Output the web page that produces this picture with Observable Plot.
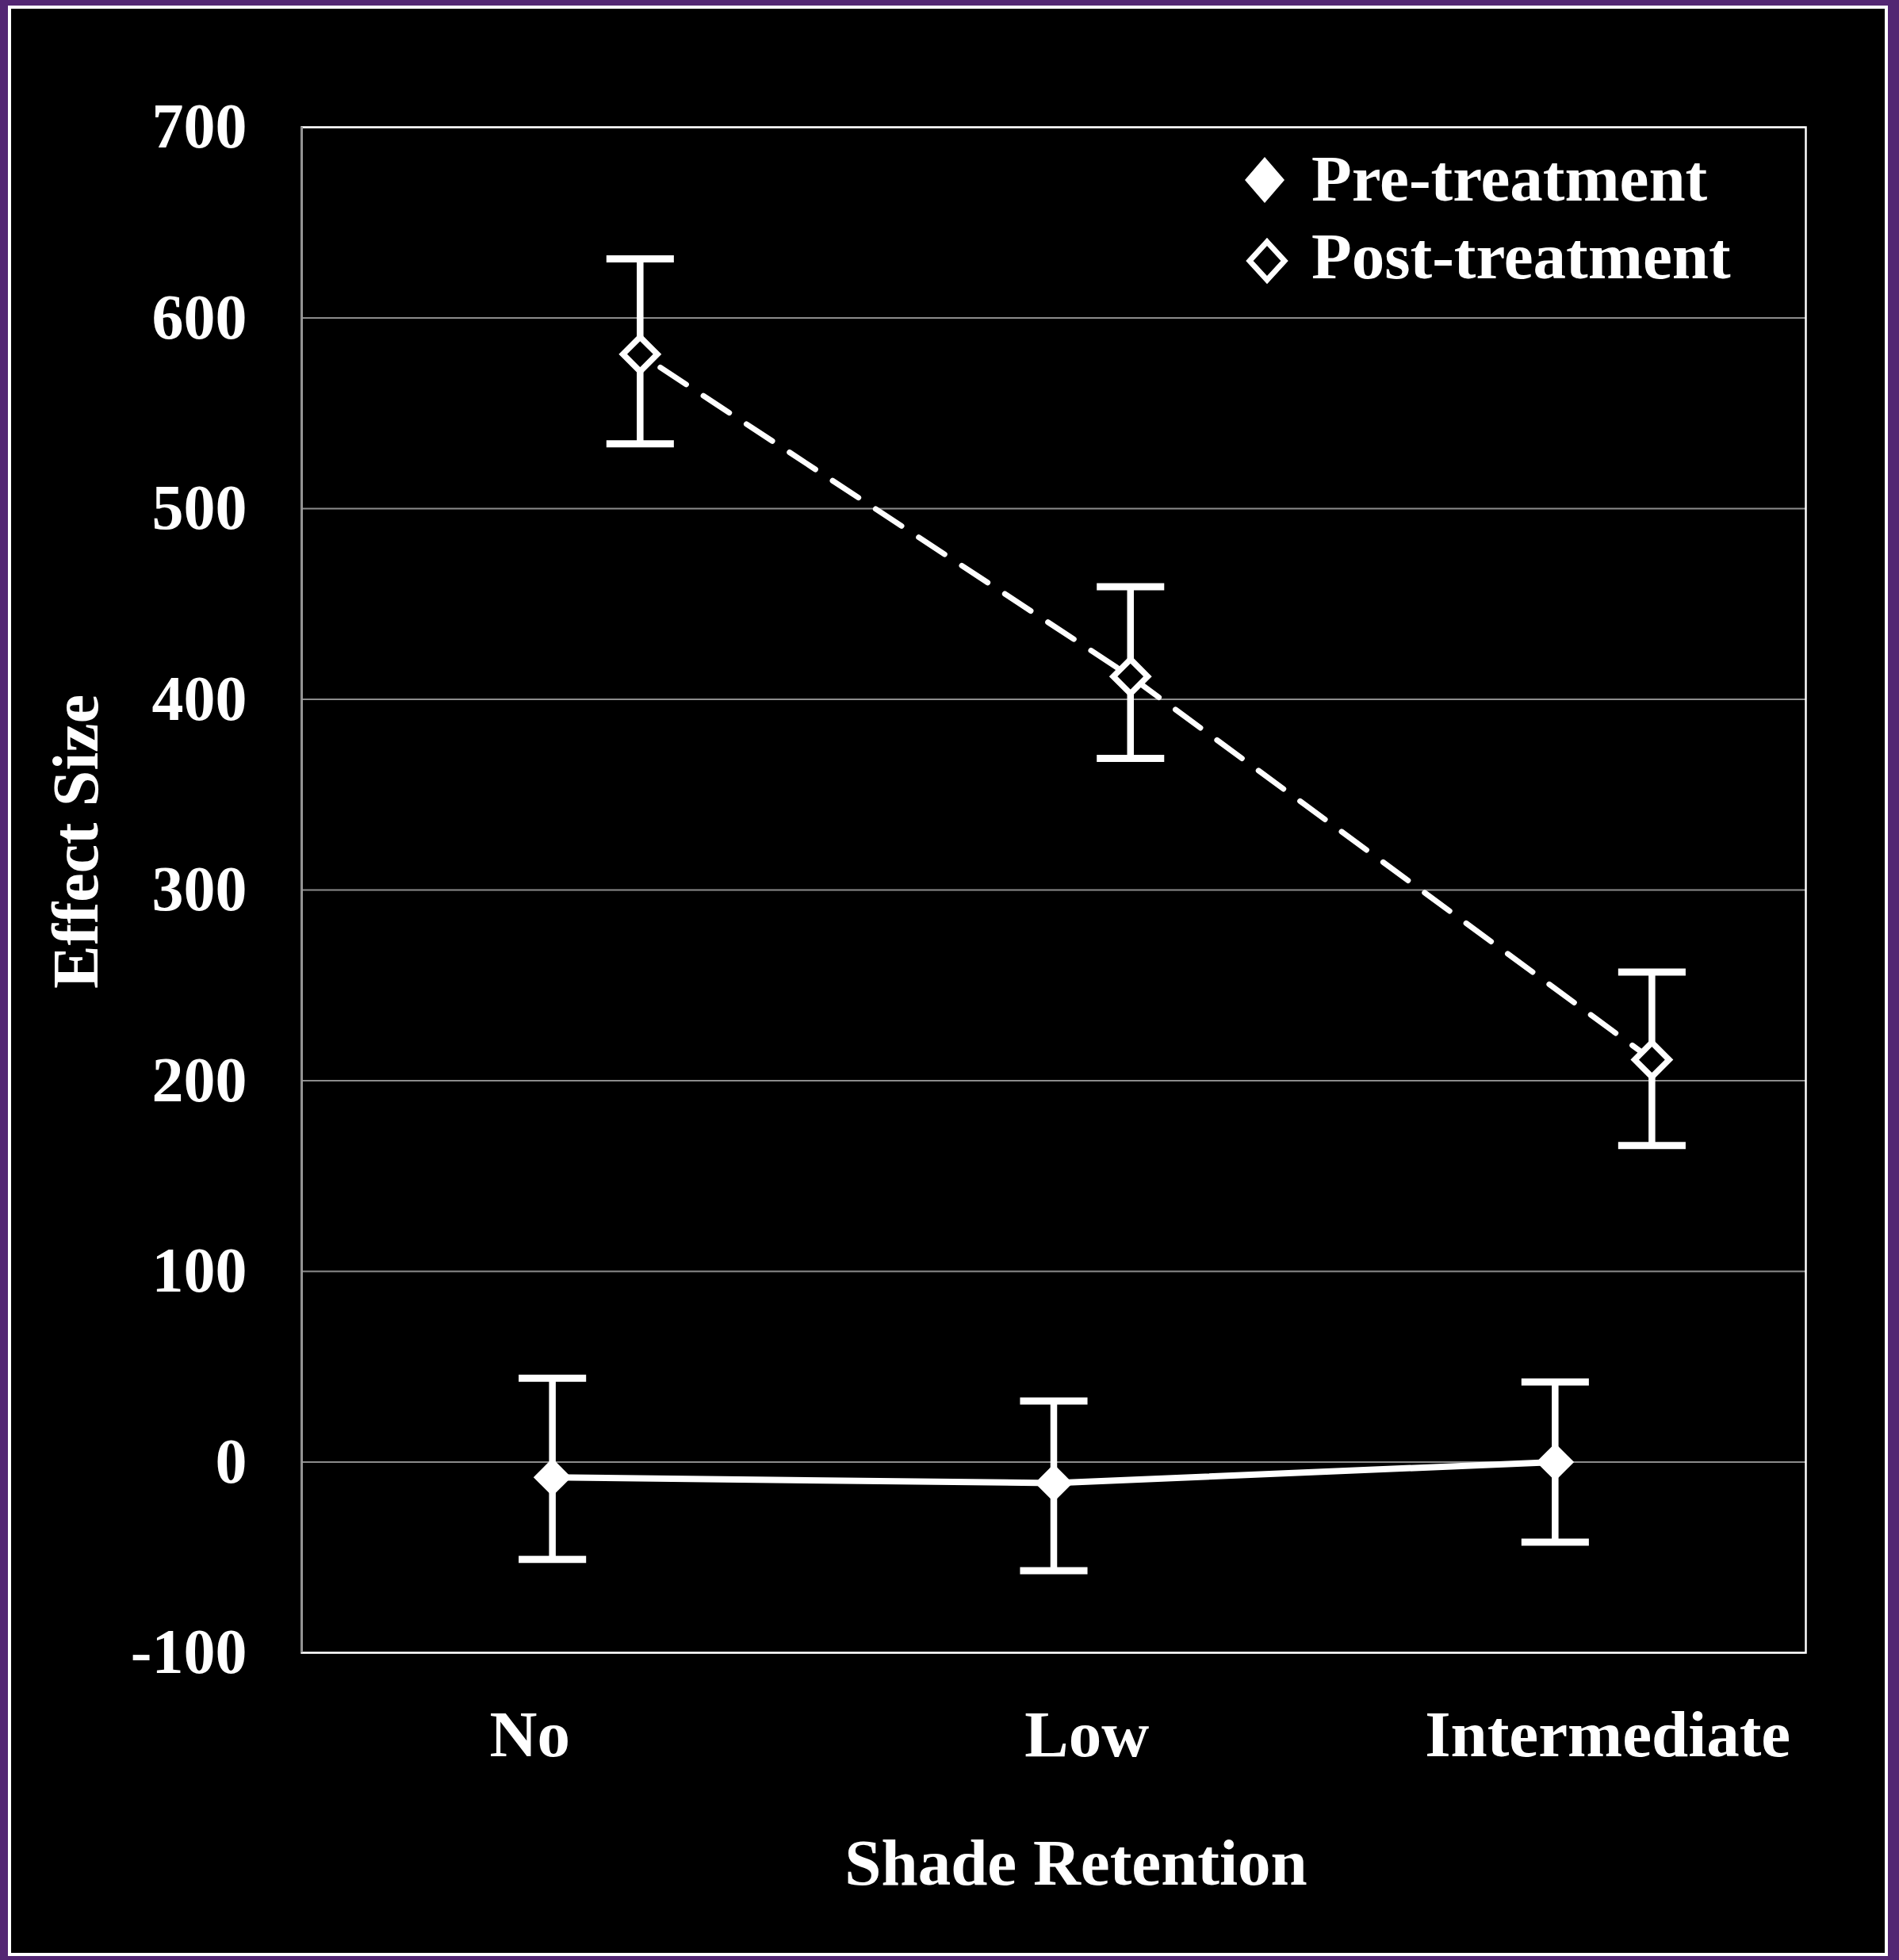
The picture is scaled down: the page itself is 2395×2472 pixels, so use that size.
<!DOCTYPE html>
<html>
<head>
<meta charset="utf-8">
<script src="https://cdn.jsdelivr.net/npm/d3@7"></script>
<script src="https://cdn.jsdelivr.net/npm/@observablehq/plot@0.6"></script>
<style>
  html, body { margin: 0; padding: 0; }
  body { width: 2395px; height: 2472px; background: #532673; position: relative; overflow: hidden; }
  #panel { position: absolute; left: 10px; top: 7px; width: 2371px; height: 2460px; box-sizing: border-box; border: 4px solid #ffffff; background: #000000; }
  #chart { position: absolute; left: 0; top: 0; }
  #legend { position: absolute; left: 0; top: 0; pointer-events: none; }
  #legend text { font-family: "Liberation Serif", "Times New Roman", serif; font-weight: bold; font-size: 83px; fill: #ffffff; }
</style>
</head>
<body>
<div id="panel"></div>
<div id="chart"></div>
<svg id="legend" width="2395" height="2472">
  <polygon points="1595,198 1620,227 1595,256 1570,227" fill="#ffffff"/>
  <text x="1654" y="253">Pre-treatment</text>
  <polygon points="1598,305 1620,329 1598,353 1576,329" fill="#000000" stroke="#ffffff" stroke-width="7" stroke-linejoin="miter"/>
  <text x="1654" y="351">Post-treatment</text>
</svg>
<script>
// Shade retention categories and where each sits along the category axis
const categories = ["No", "Low", "Intermediate"];
const labelX = [0.455, 1.566, 2.605];

// Pre-treatment effect sizes with error-bar limits
const preX = [0.5, 1.5, 2.5];
const preMean = [-8, -11, 0];
const preLow = [-51, -57, -42];
const preHigh = [44, 32, 42];

// Post-treatment effect sizes with error-bar limits
const postX = [0.675, 1.653, 2.693];
const postMean = [581, 412, 211];
const postLow = [534, 369, 166];
const postHigh = [631, 459, 257];

const yTicks = [-100, 0, 100, 200, 300, 400, 500, 600, 700];

const pre = categories.map((c, i) => ({category: c, x: preX[i], y: preMean[i], lo: preLow[i], hi: preHigh[i]}));
const post = categories.map((c, i) => ({category: c, x: postX[i], y: postMean[i], lo: postLow[i], hi: postHigh[i]}));

// horizontal bar used as the error-bar cap
const capBar = {
  draw(context, size) {
    const w = Math.sqrt(size);
    context.moveTo(-w, 0);
    context.lineTo(w, 0);
  }
};

const white = "#ffffff";
const gray = "#8c8c8c";

const chart = Plot.plot({
  width: 2395,
  height: 2472,
  marginLeft: 380,
  marginRight: 118,
  marginTop: 160,
  marginBottom: 388,
  style: {
    background: "transparent",
    color: white,
    fontFamily: "'Liberation Serif', 'Times New Roman', serif",
    fontWeight: "bold"
  },
  x: {type: "linear", domain: [0, 3], axis: null},
  y: {domain: [-100, 700], axis: null},
  marks: [
    Plot.ruleY(yTicks, {stroke: gray, strokeWidth: 2}),
    Plot.frame({stroke: white, strokeWidth: 2.5}),
    Plot.ruleX([0], {stroke: gray, strokeWidth: 2.5}),
    Plot.axisY({
      ticks: yTicks,
      tickSize: 0,
      tickPadding: 69,
      tickFormat: d => String(d),
      fontSize: 80,
      label: null
    }),
    Plot.text(labelX, {
      x: d => d,
      text: (d, i) => categories[i],
      frameAnchor: "bottom",
      lineAnchor: "top",
      textAnchor: "middle",
      dy: 72,
      fontSize: 83
    }),
    Plot.text(["Effect Size"], {
      frameAnchor: "left",
      rotate: -90,
      textAnchor: "middle",
      lineAnchor: "middle",
      dx: -284,
      dy: -61,
      fontSize: 82
    }),
    Plot.text(["Shade Retention"], {
      frameAnchor: "bottom",
      textAnchor: "middle",
      lineAnchor: "middle",
      dx: 28,
      dy: 266,
      fontSize: 83
    }),
    // connecting lines
    Plot.line(pre, {x: "x", y: "y", stroke: white, strokeWidth: 8}),
    Plot.line(post, {x: "x", y: "y", stroke: white, strokeWidth: 7, strokeDasharray: "39,26", strokeDashoffset: -30.5}),
    // error bars
    Plot.ruleX(pre, {x: "x", y1: "lo", y2: "hi", stroke: white, strokeWidth: 8.5}),
    Plot.ruleX(post, {x: "x", y1: "lo", y2: "hi", stroke: white, strokeWidth: 8.5}),
    Plot.dot(pre, {x: "x", y: "hi", symbol: capBar, r: 24, stroke: white, strokeWidth: 9, fill: "none"}),
    Plot.dot(pre, {x: "x", y: "lo", symbol: capBar, r: 24, stroke: white, strokeWidth: 9, fill: "none"}),
    Plot.dot(post, {x: "x", y: "hi", symbol: capBar, r: 24, stroke: white, strokeWidth: 9, fill: "none"}),
    Plot.dot(post, {x: "x", y: "lo", symbol: capBar, r: 24, stroke: white, strokeWidth: 9, fill: "none"}),
    // markers
    Plot.dot(pre, {x: "x", y: "y", symbol: "diamond2", r: 21.5, fill: white, stroke: "none"}),
    Plot.dot(post, {x: "x", y: "y", symbol: "diamond2", r: 19.5, fill: "#000000", stroke: white, strokeWidth: 7.5, strokeLinejoin: "miter"})
  ]
});

document.getElementById("chart").appendChild(chart);
</script>
</body>
</html>
